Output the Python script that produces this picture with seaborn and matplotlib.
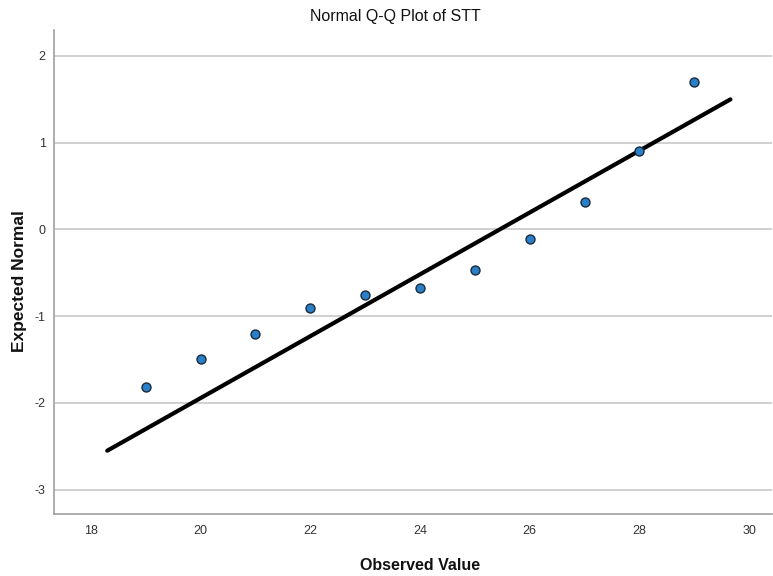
import matplotlib
matplotlib.use("Agg")
import matplotlib.pyplot as plt
import seaborn as sns
import pandas as pd

observed = [19, 20, 21, 22, 23, 24, 25, 26, 27, 28, 29]
expected = [-1.82, -1.49, -1.21, -0.91, -0.75, -0.67, -0.47, -0.11, 0.32, 0.91, 1.70]
line_x = [18.3, 29.66]
line_y = [-2.55, 1.50]
x_ticks = [18, 20, 22, 24, 26, 28, 30]
y_ticks = [-3, -2, -1, 0, 1, 2]

sns.set_theme(style="white")
plt.rcParams['font.family'] = ['Liberation Sans', 'DejaVu Sans']
plt.rcParams['axes.unicode_minus'] = False

fig = plt.figure(figsize=(7.73, 5.76), dpi=100)
ax = fig.add_axes([0.0699, 0.1076, 0.929, 0.8404])

for yt in y_ticks:
    ax.axhline(yt, color="#c8c8c8", lw=1.2, zorder=0)

sns.lineplot(x=line_x, y=line_y, ax=ax, color="black", lw=3, zorder=2)
df = pd.DataFrame({"obs": observed, "exp": expected})
sns.scatterplot(data=df, x="obs", y="exp", ax=ax, s=42, color="#2a80c8",
                edgecolor="#1a2a3a", linewidth=1.0, zorder=3)

ax.set_xlim(17.33, 30.42)
ax.set_ylim(-3.28, 2.3)
ax.set_xticks(x_ticks)
ax.set_yticks(y_ticks)
ax.tick_params(axis="both", length=0, labelsize=9, colors="#333333")
ax.tick_params(axis="x", pad=8)
ax.tick_params(axis="y", pad=6)
for s in ["top", "right"]:
    ax.spines[s].set_visible(False)
for s in ["left", "bottom"]:
    ax.spines[s].set_color("#a0a0a0")
    ax.spines[s].set_linewidth(1.2)

ax.set_xlabel("Observed Value", fontsize=11.5, fontweight="bold", color="#111111")
ax.xaxis.set_label_coords(0.51, -0.09)
ax.xaxis.label.set_va("top")
ax.set_ylabel("Expected Normal", fontsize=12.5, fontweight="bold", color="#111111")
ax.yaxis.set_label_coords(-0.037, 0.481)
fig.suptitle("Normal Q-Q Plot of STT", x=0.511, y=0.985, fontsize=11.5, color="#111111")

fig.savefig("out.png", dpi=100)
